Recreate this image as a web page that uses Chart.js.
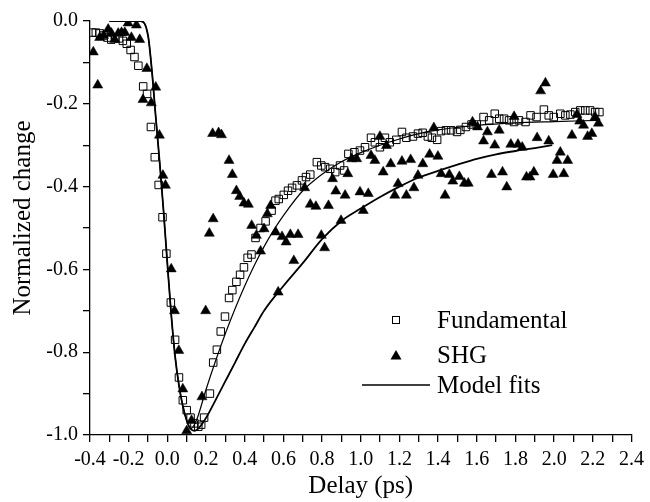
<!DOCTYPE html>
<html>
<head>
<meta charset="utf-8">
<script src="https://cdn.jsdelivr.net/npm/chart.js@4.4.1/dist/chart.umd.min.js"></script>
<style>
  body { margin: 0; background: #fff; }
  #chart { display: block; }
</style>
</head>
<body>
<canvas id="chart" width="650" height="502"></canvas>
<script>
// Fundamental (open squares)
var fundDelay = [-0.39, -0.37, -0.35, -0.33, -0.31, -0.29, -0.27, -0.25, -0.23, -0.21,
  -0.19, -0.17, -0.15, -0.125, -0.105, -0.085, -0.065, -0.045, -0.025, -0.005,
  0.018, 0.04, 0.06, 0.08, 0.1, 0.12, 0.14, 0.16, 0.175, 0.19,
  0.22, 0.237, 0.256, 0.276, 0.298, 0.319, 0.336, 0.357, 0.376, 0.396,
  0.415, 0.435, 0.456, 0.482, 0.508, 0.539, 0.559, 0.576, 0.602, 0.624,
  0.645, 0.67, 0.696, 0.717, 0.739, 0.773, 0.796, 0.816, 0.842, 0.868,
  0.893, 0.914, 0.936, 0.967, 0.996, 1.022, 1.053, 1.073, 1.099, 1.125,
  1.15, 1.184, 1.213, 1.236, 1.27, 1.296, 1.32, 1.347, 1.368, 1.395,
  1.415, 1.441, 1.467, 1.498, 1.515, 1.544, 1.573, 1.6, 1.635, 1.664,
  1.693, 1.716, 1.741, 1.767, 1.793, 1.818, 1.852, 1.878, 1.909, 1.947,
  1.972, 1.998, 2.032, 2.058, 2.084, 2.109, 2.135, 2.161, 2.186, 2.212, 2.234];
var fundValue = [-0.028, -0.028, -0.03, -0.035, -0.04, -0.045, -0.04, -0.042, -0.048, -0.055,
  -0.07, -0.087, -0.108, -0.158, -0.176, -0.256, -0.329, -0.396, -0.474, -0.562,
  -0.68, -0.77, -0.861, -0.916, -0.94, -0.958, -0.972, -0.98, -0.975, -0.958,
  -0.9, -0.825, -0.794, -0.75, -0.714, -0.669, -0.65, -0.63, -0.613, -0.595,
  -0.572, -0.564, -0.524, -0.5, -0.484, -0.458, -0.434, -0.43, -0.42, -0.41,
  -0.403, -0.397, -0.385, -0.377, -0.371, -0.341, -0.349, -0.353, -0.357, -0.365,
  -0.349, -0.361, -0.321, -0.317, -0.313, -0.305, -0.282, -0.293, -0.305, -0.282,
  -0.293, -0.287, -0.268, -0.282, -0.279, -0.272, -0.27, -0.279, -0.282, -0.287,
  -0.266, -0.264, -0.264, -0.268, -0.263, -0.256, -0.25, -0.25, -0.232, -0.24,
  -0.224, -0.236, -0.236, -0.24, -0.244, -0.24, -0.244, -0.228, -0.232, -0.214,
  -0.228, -0.232, -0.224, -0.228, -0.226, -0.22, -0.216, -0.216, -0.216, -0.22, -0.22];

// SHG (filled triangles)
var shgDelay = [-0.383, -0.36, -0.35, -0.33, -0.306, -0.289, -0.272, -0.254, -0.237, -0.22,
  -0.203, -0.186, -0.16, -0.143, -0.126, -0.106, -0.083, -0.06, -0.041, -0.023,
  -0.01, 0.02, 0.037, 0.059, 0.08, 0.1, 0.125, 0.179, 0.198, 0.217,
  0.234, 0.237, 0.265, 0.28, 0.319, 0.336, 0.357, 0.374, 0.396, 0.419,
  0.436, 0.46, 0.482, 0.5, 0.517, 0.534, 0.56, 0.573, 0.593, 0.614,
  0.636, 0.654, 0.676, 0.71, 0.739, 0.768, 0.796, 0.813, 0.833, 0.854,
  0.871, 0.898, 0.919, 0.933, 0.953, 0.979, 0.996, 1.013, 1.039, 1.053,
  1.073, 1.099, 1.116, 1.133, 1.155, 1.176, 1.193, 1.213, 1.236, 1.258,
  1.275, 1.296, 1.321, 1.356, 1.378, 1.399, 1.416, 1.436, 1.458, 1.476,
  1.51, 1.536, 1.556, 1.578, 1.604, 1.635, 1.655, 1.676, 1.693, 1.716,
  1.733, 1.755, 1.776, 1.793, 1.813, 1.835, 1.857, 1.875, 1.895, 1.912,
  1.93, 1.955, 1.972, 1.995, 2.015, 2.032, 2.05, 2.07, 2.092, 2.118,
  2.132, 2.152, 2.173, 2.195, 2.212, 2.229];
var shgValue = [-0.075, -0.155, -0.04, -0.035, -0.02, -0.03, -0.045, -0.03, -0.028, -0.028,
  -0.005, -0.04, -0.01, -0.045, -0.19, -0.115, -0.198, -0.16, -0.276, -0.373,
  -0.397, -0.599, -0.7, -0.796, -0.889, -0.99, -0.965, -0.908, -0.7, -0.513,
  -0.272, -0.478, -0.27, -0.275, -0.337, -0.371, -0.41, -0.424, -0.44, -0.443,
  -0.494, -0.518, -0.556, -0.502, -0.466, -0.446, -0.51, -0.655, -0.521, -0.534,
  -0.516, -0.579, -0.516, -0.403, -0.443, -0.448, -0.518, -0.548, -0.446, -0.381,
  -0.411, -0.482, -0.421, -0.369, -0.333, -0.333, -0.413, -0.458, -0.417, -0.325,
  -0.337, -0.279, -0.365, -0.301, -0.345, -0.421, -0.393, -0.339, -0.421, -0.335,
  -0.403, -0.373, -0.345, -0.322, -0.258, -0.327, -0.369, -0.421, -0.371, -0.387,
  -0.376, -0.392, -0.392, -0.244, -0.256, -0.29, -0.268, -0.371, -0.3, -0.264,
  -0.365, -0.401, -0.298, -0.231, -0.298, -0.305, -0.377, -0.377, -0.365, -0.282,
  -0.169, -0.15, -0.29, -0.371, -0.337, -0.317, -0.369, -0.337, -0.276, -0.226,
  -0.242, -0.252, -0.279, -0.272, -0.232, -0.247];

// model fit for the fundamental (thin line)
var fitFundDelay = [-0.3, -0.14, -0.1, -0.08, -0.06, -0.04, -0.02, 0, 0.02, 0.04,
  0.06, 0.08, 0.1, 0.12, 0.15, 0.2, 0.25, 0.3, 0.35, 0.4,
  0.45, 0.5, 0.55, 0.6, 0.7, 0.8, 0.9, 1.0, 1.1, 1.2,
  1.3, 1.4, 1.5, 1.6, 1.8, 2.0, 2.23];
var fitFundValue = [0, 0, -0.035, -0.12, -0.232, -0.34, -0.457, -0.586, -0.709, -0.81,
  -0.88, -0.93, -0.965, -0.985, -0.965, -0.89, -0.82, -0.755, -0.695, -0.64,
  -0.59, -0.545, -0.505, -0.47, -0.41, -0.37, -0.34, -0.318, -0.3, -0.285,
  -0.272, -0.263, -0.257, -0.252, -0.246, -0.243, -0.24];

// model fit for the SHG (thicker line)
var fitShgDelay = [-0.3, -0.14, -0.1, -0.08, -0.06, -0.04, -0.02, 0, 0.02, 0.04,
  0.06, 0.08, 0.1, 0.12, 0.14, 0.19, 0.25, 0.3, 0.35, 0.4,
  0.45, 0.5, 0.6, 0.7, 0.8, 0.9, 1.0, 1.1, 1.2, 1.3,
  1.4, 1.5, 1.6, 1.7, 1.8, 1.9, 1.99];
var fitShgValue = [0, 0, -0.035, -0.12, -0.232, -0.34, -0.457, -0.586, -0.709, -0.81,
  -0.88, -0.93, -0.965, -0.985, -0.99, -0.966, -0.915, -0.87, -0.825, -0.78,
  -0.74, -0.7, -0.64, -0.585, -0.527, -0.483, -0.453, -0.425, -0.4, -0.378,
  -0.362, -0.347, -0.333, -0.322, -0.314, -0.307, -0.3];

var legendLabels = ["Fundamental", "SHG", "Model fits"];
var xTitle = "Delay (ps)";
var yTitle = "Normalized change";

function pairs(xs, ys) {
  return xs.map(function (x, i) { return { x: x, y: ys[i] }; });
}

// labels only on every second tick (0.2 apart)
function tickLabel(v) {
  var n = Math.round(v * 10);
  if (n % 2 !== 0) return "";
  return (n / 10).toFixed(1);
}

var serif = "'Liberation Serif', 'DejaVu Serif', serif";
Chart.defaults.font.family = serif;
Chart.defaults.color = "#000";

// legend inside the plot + y title (sits a bit above the axis middle in the original)
var extras = {
  id: "extras",
  afterDraw: function (chart) {
    var ctx = chart.ctx;
    var rows = [320, 355, 385];
    ctx.save();
    ctx.font = "25px " + serif;
    ctx.fillStyle = "#000";
    ctx.strokeStyle = "#000";
    ctx.textBaseline = "middle";
    // square
    ctx.lineWidth = 1;
    ctx.fillStyle = "#fff";
    ctx.fillRect(392.5, rows[0] - 3.5, 7, 7);
    ctx.strokeRect(392.5, rows[0] - 3.5, 7, 7);
    // triangle
    ctx.fillStyle = "#000";
    ctx.beginPath();
    ctx.moveTo(396, rows[1] - 5);
    ctx.lineTo(401.5, rows[1] + 4.5);
    ctx.lineTo(390.5, rows[1] + 4.5);
    ctx.closePath();
    ctx.fill();
    // line
    ctx.lineWidth = 1.5;
    ctx.beginPath();
    ctx.moveTo(362, rows[2]);
    ctx.lineTo(430, rows[2]);
    ctx.stroke();
    for (var i = 0; i < legendLabels.length; i++) {
      ctx.fillText(legendLabels[i], 437, rows[i] + 1);
    }
    // y axis title
    ctx.translate(23, 218);
    ctx.rotate(-Math.PI / 2);
    ctx.textAlign = "center";
    ctx.fillText(yTitle, 0, 0);
    ctx.restore();
  }
};

var ctx = document.getElementById("chart").getContext("2d");
var chart = new Chart(ctx, {
  type: "scatter",
  data: {
    datasets: [
      {
        label: legendLabels[0],
        data: pairs(fundDelay, fundValue),
        pointStyle: "rect",
        pointRadius: 5.3,
        pointBorderWidth: 1,
        pointBackgroundColor: "rgba(255,255,255,0)",
        pointBorderColor: "#000",
        order: 3,
      },
      {
        label: legendLabels[1],
        data: pairs(shgDelay, shgValue),
        pointStyle: "triangle",
        pointRadius: 5.8,
        pointBorderWidth: 0.5,
        pointBackgroundColor: "#000",
        pointBorderColor: "#000",
        order: 2,
      },
      {
        label: legendLabels[2],
        type: "line",
        data: pairs(fitFundDelay, fitFundValue),
        borderColor: "#000",
        borderWidth: 1.2,
        pointRadius: 0,
        fill: false,
        cubicInterpolationMode: "monotone",
        order: 1,
      },
      {
        label: legendLabels[2],
        type: "line",
        data: pairs(fitShgDelay, fitShgValue),
        borderColor: "#000",
        borderWidth: 1.8,
        pointRadius: 0,
        fill: false,
        cubicInterpolationMode: "monotone",
        order: 0,
      },
    ],
  },
  options: {
    responsive: false,
    animation: false,
    layout: { padding: { top: 21, right: 15, left: 0, bottom: 0 } },
    plugins: {
      legend: { display: false },
      tooltip: { enabled: false },
    },
    scales: {
      x: {
        type: "linear",
        min: -0.4,
        max: 2.4,
        border: { color: "#000", width: 1.3 },
        grid: { drawOnChartArea: false, color: "#000", tickLength: 7, lineWidth: 1.3 },
        ticks: {
          stepSize: 0.1,
          autoSkip: false,
          maxRotation: 0,
          padding: 6,
          font: { size: 20 },
          callback: tickLabel,
        },
        title: {
          display: true,
          text: xTitle,
          font: { size: 25 },
          padding: { top: 0, bottom: 1 },
        },
        afterFit: function (scale) { scale.height = 67; },
      },
      y: {
        type: "linear",
        min: -1,
        max: 0,
        border: { color: "#000", width: 1.3 },
        grid: { drawOnChartArea: false, color: "#000", tickLength: 7, lineWidth: 1.3 },
        ticks: {
          stepSize: 0.1,
          autoSkip: false,
          padding: 5,
          font: { size: 20 },
          callback: tickLabel,
        },
        afterFit: function (scale) { scale.width = 90; },
      },
    },
  },
  plugins: [extras],
});
</script>
</body>
</html>
